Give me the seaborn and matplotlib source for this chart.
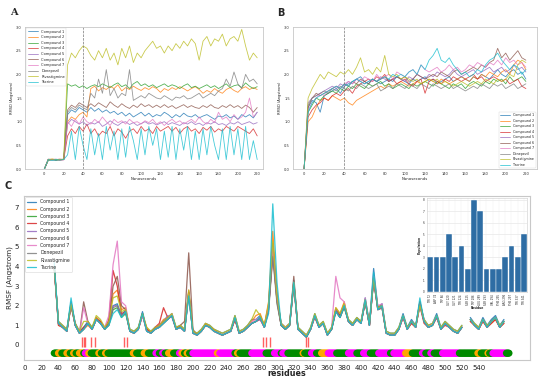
import numpy as np
import pandas as pd
import matplotlib
matplotlib.use("Agg")
import matplotlib.pyplot as plt
import seaborn as sns

# ---------------- data ----------------
names = ["Compound 1", "Compound 2", "Compound 3", "Compound 4", "Compound 5",
         "Compound 6", "Compound 7", "Donepezil", "Rivastigmine", "Tacrine"]

time_ns = list(range(0, 221, 4))

# Panel A RMSD
a_c1 = [0.0, 0.19, 0.2, 0.18, 0.2, 0.2, 1.15, 1.25,
        1.2, 1.3, 1.25, 1.2, 1.3, 1.22, 1.28, 1.2,
        1.25, 1.18, 1.22, 1.15, 1.2, 1.12, 1.18, 1.1,
        1.15, 1.2, 1.12, 1.18, 1.1, 1.15, 1.12, 1.2,
        1.15, 1.08, 1.15, 1.1, 1.18, 1.12, 1.1, 1.15,
        1.08, 1.12, 1.15, 1.1, 1.05, 1.12, 1.1, 1.15,
        1.08, 1.12, 1.05, 1.15, 1.1, 1.15, 1.08, 1.2]
a_c2 = [0.0, 0.2, 0.21, 0.2, 0.19, 0.2, 1.0, 1.1,
        1.05, 1.15, 1.2, 1.1, 1.7, 1.75, 1.65, 1.72,
        1.68, 1.75, 1.7, 1.78, 1.65, 1.72, 1.68, 1.75,
        1.7, 1.66, 1.72, 1.68, 1.74, 1.7, 1.62, 1.7,
        1.66, 1.72, 1.68, 1.74, 1.7, 1.65, 1.7, 1.74,
        1.68, 1.6, 1.66, 1.62, 1.7, 1.64, 1.6, 1.68,
        1.72, 1.66, 1.62, 1.7, 1.74, 1.68, 1.72, 1.68]
a_c3 = [0.0, 0.18, 0.2, 0.19, 0.2, 0.21, 1.8, 1.75,
        1.78, 1.72, 1.76, 1.7, 1.75, 1.78, 1.74, 1.8,
        1.76, 1.72, 1.78, 1.82, 1.74, 1.78, 1.7, 1.8,
        1.85, 1.76, 1.8, 1.74, 1.78, 1.72, 1.76, 1.8,
        1.74, 1.78, 1.75, 1.7, 1.76, 1.8, 1.72, 1.75,
        1.7, 1.74, 1.78, 1.72, 1.76, 1.7, 1.75, 1.8,
        1.72, 1.76, 1.78, 1.72, 1.82, 1.75, 1.7, 1.74]
a_c4 = [0.0, 0.2, 0.19, 0.2, 0.21, 0.2, 0.7, 0.85,
        0.75, 0.9, 0.8, 0.95, 0.75, 0.85, 0.7, 0.8,
        0.75, 0.9, 0.7, 0.85, 0.78, 0.65, 0.8, 0.85,
        0.75, 0.9, 0.8, 0.85, 0.75, 0.9, 0.8, 0.85,
        0.9, 0.8, 0.88, 0.75, 0.85, 0.9, 0.8, 0.85,
        0.75, 0.88, 0.82, 0.9, 0.78, 0.85, 0.8, 0.9,
        0.85, 0.8, 0.9, 0.85, 0.8, 0.75, 0.85, 0.7]
a_c5 = [0.0, 0.2, 0.2, 0.21, 0.19, 0.2, 0.95, 1.05,
        1.0, 0.95, 1.0, 0.92, 0.98, 0.95, 1.0, 0.9,
        0.95, 1.02, 0.96, 0.92, 0.98, 1.0, 0.94, 0.98,
        0.92, 0.96, 1.0, 0.95, 0.98, 0.93, 0.97, 1.0,
        0.94, 0.98, 0.95, 0.92, 0.98, 0.95, 1.0, 0.94,
        0.97, 0.92, 0.98, 0.95, 1.0, 0.94, 0.96, 0.92,
        0.98, 0.95, 1.0, 0.94, 0.97, 1.0, 0.95, 0.98]
a_c6 = [0.0, 0.21, 0.2, 0.2, 0.19, 0.2, 1.25, 1.35,
        1.3, 1.4, 1.35, 1.3, 1.38, 1.32, 1.4, 1.35,
        1.3, 1.42, 1.35, 1.3, 1.38, 1.32, 1.28, 1.35,
        1.3, 1.38, 1.32, 1.36, 1.3, 1.35, 1.3, 1.36,
        1.3, 1.34, 1.28, 1.32, 1.36, 1.3, 1.34, 1.3,
        1.28, 1.34, 1.3, 1.36, 1.3, 1.28, 1.34, 1.3,
        1.36, 1.3, 1.34, 1.28, 1.35, 1.3, 1.2, 1.3]
a_c7 = [0.0, 0.2, 0.2, 0.2, 0.2, 0.19, 1.0, 0.9,
        1.05, 0.95, 1.1, 1.0, 0.95, 1.05, 0.98, 1.1,
        1.0, 0.92, 1.05, 0.98, 1.02, 0.95, 1.05, 0.98,
        1.0, 0.95, 1.02, 0.98, 1.05, 0.95, 1.0, 0.92,
        1.0, 1.05, 0.98, 1.02, 0.95, 1.0, 1.05, 0.98,
        1.1, 1.0, 0.95, 1.05, 0.98, 1.2, 1.05, 1.1,
        1.0, 1.15, 1.05, 1.1, 1.2, 1.5, 1.1, 1.2]
a_don = [0.0, 0.2, 0.2, 0.2, 0.2, 0.2, 1.2, 1.3,
         1.25, 1.35, 1.3, 1.25, 1.6, 1.5, 1.9, 1.6,
         2.1, 1.55, 1.7, 1.5, 1.6, 1.55, 2.1, 1.45,
         1.5, 1.55, 1.5, 1.6, 1.55, 1.5, 1.48, 1.55,
         1.5, 1.45, 1.52, 1.5, 1.55, 1.48, 1.5, 1.55,
         1.6, 1.5, 1.55, 1.6, 1.55, 1.65, 1.7, 1.9,
         1.75, 2.05, 1.8, 1.7, 2.0, 1.85, 1.9, 1.8]
a_riv = [0.0, 0.2, 0.21, 0.2, 0.2, 0.2, 2.2, 2.45,
         2.35, 2.5, 2.6, 2.55, 2.4, 2.3, 2.5, 2.35,
         2.55, 2.3, 2.45, 2.2, 2.55, 2.35, 2.6, 2.25,
         2.45, 2.35, 2.5, 2.6, 2.7, 2.55, 2.6, 2.45,
         2.6, 2.5, 2.65, 2.55, 2.7, 2.6, 2.75, 2.65,
         2.3, 2.7, 2.8, 2.6, 2.75, 2.7, 2.85, 2.6,
         2.75, 2.8, 2.7, 2.95, 2.6, 2.3, 2.45, 2.35]
a_tac = [0.0, 0.2, 0.18, 0.2, 0.19, 0.2, 0.3, 0.8,
         0.2, 0.9, 0.5, 0.2, 0.85, 0.3, 0.75, 0.2,
         0.9, 0.4, 0.8, 0.2, 0.85, 0.25, 0.9, 0.6,
         0.2, 0.85, 0.3, 0.9, 0.5, 0.85, 0.2, 0.8,
         0.25, 0.9, 0.2, 0.85, 0.4, 0.9, 0.2, 0.8,
         0.2, 0.85, 0.3, 0.9, 0.5, 0.2, 0.85, 0.2,
         0.9, 0.3, 0.85, 0.2, 0.9, 0.2, 0.6, 0.2]

# Panel B RMSD
b_c1 = [0.0, 1.3, 1.45, 1.4, 1.2, 1.55, 1.6, 1.65,
        1.7, 1.6, 1.75, 1.8, 1.85, 1.9, 1.95, 1.85,
        1.8, 1.9, 1.85, 1.8, 1.85, 1.9, 1.85, 1.95,
        1.9, 1.85, 1.8, 1.9, 1.85, 1.9, 1.95, 1.85,
        1.9, 1.8, 1.85, 1.9, 1.95, 1.85, 1.9, 1.95,
        1.9, 1.85, 1.95, 1.9, 2.0, 1.95, 1.9, 2.0,
        2.1, 2.0, 1.95, 2.05, 2.1, 2.0, 2.05, 1.9]
b_c2 = [0.0, 1.0, 1.1, 1.3, 1.45, 1.5, 1.45, 1.55,
        1.5, 1.45, 1.5, 1.4, 1.35, 1.45, 1.5, 1.55,
        1.6, 1.65, 1.7, 1.75, 1.7, 1.8, 1.75, 1.8,
        1.85, 1.8, 1.75, 1.8, 1.85, 1.8, 1.85, 1.9,
        1.85, 1.8, 1.9, 1.85, 1.8, 1.85, 1.9, 1.95,
        1.9, 1.85, 1.95, 1.9, 2.0, 1.95, 2.05, 2.0,
        1.95, 2.05, 2.1, 2.0, 2.2, 2.3, 2.25, 2.1]
b_c3 = [0.0, 1.2, 1.35, 1.5, 1.45, 1.55, 1.6, 1.65,
        1.6, 1.7, 1.65, 1.75, 1.7, 1.8, 1.75, 1.7,
        1.8, 1.75, 1.8, 1.85, 1.75, 1.8, 1.7, 1.75,
        1.8, 1.75, 1.7, 1.8, 1.75, 1.8, 1.85, 1.8,
        1.75, 1.85, 1.8, 1.75, 1.7, 1.8, 1.75, 1.8,
        1.7, 1.8, 1.85, 1.8, 1.75, 1.85, 1.8, 1.9,
        1.85, 1.9, 1.8, 1.95, 1.85, 1.9, 1.95, 1.85]
b_c4 = [0.0, 1.1, 1.25, 1.35, 1.4, 1.5, 1.45, 1.55,
        1.6, 1.55, 1.65, 1.7, 1.6, 1.75, 1.8, 1.85,
        1.9, 1.85, 1.95, 1.9, 2.0, 1.85, 1.9, 1.8,
        1.85, 1.9, 1.8, 1.75, 1.85, 1.9, 1.6, 1.85,
        1.9, 1.85, 1.8, 1.9, 1.85, 1.95, 1.9, 1.85,
        1.9, 1.95, 2.0, 1.9, 1.95, 1.85, 1.9, 1.95,
        1.9, 1.85, 1.9, 1.8, 1.85, 1.9, 1.75, 1.7]
b_c5 = [0.0, 1.4, 1.5, 1.55, 1.6, 1.65, 1.7, 1.75,
        1.7, 1.8, 1.75, 1.85, 1.8, 1.9, 1.85, 1.8,
        1.85, 1.9, 1.85, 1.95, 1.9, 1.85, 1.9, 1.95,
        1.9, 1.85, 1.95, 1.9, 2.0, 1.95, 1.9, 2.0,
        1.95, 2.05, 2.0, 1.95, 2.0, 2.1, 2.0, 1.95,
        2.0, 2.05, 2.1, 2.0, 2.05, 2.1, 2.15, 2.05,
        2.1, 2.15, 2.05, 2.1, 2.2, 2.1, 2.15, 2.05]
b_c6 = [0.0, 1.3, 1.5, 1.6, 1.55, 1.6, 1.65, 1.7,
        1.75, 1.7, 1.8, 1.75, 1.85, 1.8, 1.9, 1.85,
        1.8, 1.9, 1.85, 1.9, 1.95, 1.85, 1.9, 1.95,
        1.9, 1.95, 1.85, 1.9, 2.0, 1.95, 1.9, 1.95,
        2.0, 1.95, 2.05, 2.0, 1.95, 2.05, 2.1, 2.0,
        2.05, 2.1, 2.15, 2.1, 2.2, 2.15, 2.25, 2.3,
        2.55, 2.35, 2.45, 2.3, 2.4, 2.5, 2.35, 2.3]
b_c7 = [0.0, 1.25, 1.4, 1.5, 1.6, 1.55, 1.65, 1.7,
        1.75, 1.7, 1.8, 1.85, 1.8, 1.9, 1.85, 1.95,
        1.9, 1.85, 2.0, 1.9, 1.95, 2.0, 1.9, 2.05,
        2.0, 1.95, 2.05, 2.1, 2.0, 2.2, 2.1, 2.05,
        2.1, 2.15, 2.05, 2.1, 2.2, 2.1, 2.15, 2.05,
        2.1, 2.2, 2.15, 2.25, 2.2, 2.15, 2.25, 2.2,
        2.3, 2.2, 2.35, 2.25, 2.3, 2.2, 2.25, 2.15]
b_don = [0.0, 1.35, 1.5, 1.55, 1.6, 1.65, 1.6, 1.7,
         1.65, 1.75, 1.7, 1.65, 1.75, 1.7, 1.8, 1.75,
         1.7, 1.75, 1.8, 1.65, 1.7, 1.75, 1.7, 1.8,
         1.75, 1.7, 1.8, 1.75, 1.7, 1.8, 1.75, 1.7,
         1.8, 1.75, 1.7, 1.75, 1.8, 1.7, 1.75, 1.7,
         1.65, 1.7, 1.75, 1.7, 1.8, 1.75, 1.7, 1.8,
         1.75, 1.8, 1.7, 1.75, 1.8, 1.7, 1.75, 1.8]
b_riv = [0.0, 1.5, 1.7, 1.85, 2.0, 1.9, 2.05, 2.0,
         1.95, 2.05, 2.0, 2.1, 2.0, 2.15, 2.35, 2.05,
         2.1, 2.0, 2.15, 2.05, 2.4, 2.0, 1.95, 2.0,
         1.9, 1.95, 1.9, 1.85, 1.9, 1.8, 1.85, 1.9,
         1.85, 1.9, 1.8, 1.85, 1.8, 1.75, 1.8, 1.85,
         1.8, 1.75, 1.8, 1.85, 1.8, 1.9, 1.85, 1.8,
         1.9, 1.85, 1.9, 2.0, 1.95, 2.2, 2.3, 2.25]
b_tac = [0.0, 1.2, 1.4, 1.5, 1.55, 1.6, 1.65, 1.7,
         1.75, 1.7, 1.8, 1.75, 1.85, 1.9, 1.85, 1.8,
         1.85, 1.9, 1.85, 1.9, 1.95, 1.9, 2.0, 1.95,
         2.0, 1.95, 2.05, 2.1, 2.0, 2.2, 2.1, 2.3,
         2.4, 2.55, 2.3, 2.25, 2.35, 2.2, 2.1, 2.0,
         2.05, 1.95, 2.0, 2.1, 2.05, 2.2, 2.3, 2.35,
         2.45, 2.3, 2.2, 2.1, 2.2, 2.15, 2.0, 2.1]

# Panel C RMSF
residues = list(range(35, 571, 5))
nan = float("nan")
c_c1 = [4.0, 1.2, 1.0, 0.8, 2.2, 1.1, 0.7, 0.9, 1.2, 0.9, 1.4, 1.2,
        0.9, 1.1, 2.0, 2.1, 1.5, 1.8, 0.8, 0.7, 0.9, 1.7, 0.8, 0.7,
        0.9, 1.0, 1.2, 1.4, 1.6, 0.9, 1.0, 0.8, 2.7, 0.7, 0.6, 0.8,
        1.1, 1.0, 0.8, 0.7, 0.6, 0.7, 0.8, 1.5, 0.7, 0.8, 1.0, 1.3,
        1.3, 1.5, 1.0, 2.0, 5.2, 2.4, 1.1, 0.9, 1.1, 3.3, 0.9, 0.7,
        0.5, 0.9, 1.6, 1.0, 1.2, 0.6, 0.9, 1.8, 1.5, 2.1, 1.3, 1.1,
        1.4, 1.2, 2.4, 1.1, 3.9, 1.9, 2.1, 0.7, 0.6, 0.6, 0.9, 1.6,
        0.9, 1.3, 1.0, 2.2, 1.3, 1.0, 1.1, 1.6, 0.9, 1.2, 1.0, 0.8,
        0.7, 1.0, nan, 1.4, 1.1, 0.9, 1.4, 1.0, 1.3, 1.5, 1.0, 1.3]
c_c2 = [3.9, 1.0, 0.9, 0.7, 2.0, 1.0, 0.6, 0.8, 1.0, 0.8, 1.4, 1.2,
        0.8, 1.2, 2.6, 2.8, 1.8, 1.9, 0.7, 0.6, 0.8, 1.5, 0.9, 0.6,
        0.8, 1.0, 1.3, 1.4, 1.5, 0.8, 1.0, 0.7, 2.8, 0.6, 0.5, 0.7,
        1.1, 0.9, 0.8, 0.6, 0.5, 0.6, 0.7, 1.3, 0.6, 0.7, 0.9, 1.2,
        1.5, 1.6, 1.0, 2.2, 5.8, 2.6, 1.0, 0.8, 1.0, 3.2, 0.8, 0.6,
        0.5, 0.8, 1.5, 0.9, 1.1, 0.6, 0.8, 1.9, 1.6, 2.2, 1.2, 1.0,
        1.3, 1.2, 2.2, 1.0, 3.5, 1.9, 2.0, 0.6, 0.5, 0.5, 0.8, 1.4,
        0.8, 1.1, 0.9, 2.2, 1.2, 0.9, 1.0, 1.4, 0.8, 1.1, 0.9, 0.7,
        0.6, 0.9, nan, 1.2, 1.0, 0.8, 1.2, 0.9, 1.1, 1.3, 0.9, 1.1]
c_c3 = [4.0, 1.1, 0.9, 0.7, 2.1, 1.0, 0.6, 0.8, 1.1, 0.8, 1.3, 1.1,
        0.8, 1.0, 1.8, 1.9, 1.4, 1.6, 0.7, 0.6, 0.8, 1.6, 0.7, 0.6,
        0.8, 0.9, 1.1, 1.3, 1.5, 0.8, 0.9, 0.7, 2.6, 0.6, 0.5, 0.7,
        1.0, 0.9, 0.7, 0.6, 0.5, 0.6, 0.7, 1.4, 0.6, 0.7, 0.9, 1.1,
        1.2, 1.4, 0.9, 1.8, 5.0, 2.2, 1.0, 0.8, 1.0, 3.1, 0.8, 0.6,
        0.4, 0.8, 1.5, 0.9, 1.1, 0.5, 0.8, 1.8, 1.4, 1.9, 1.2, 1.0,
        1.3, 1.1, 2.2, 1.0, 3.4, 1.8, 1.9, 0.6, 0.5, 0.5, 0.8, 1.5,
        0.8, 1.2, 0.9, 2.1, 1.2, 0.9, 1.0, 1.5, 0.8, 1.1, 0.9, 0.7,
        0.6, 0.9, nan, 1.3, 1.0, 0.8, 1.3, 0.9, 1.2, 1.4, 0.9, 1.2]
c_c4 = [4.0, 1.0, 0.9, 0.7, 2.0, 1.1, 0.6, 0.9, 1.1, 0.8, 1.3, 1.2,
        0.8, 1.3, 3.8, 3.0, 1.6, 1.7, 0.7, 0.6, 0.8, 1.5, 0.8, 0.6,
        0.9, 1.1, 1.9, 1.4, 1.5, 0.8, 0.9, 0.7, 2.7, 0.6, 0.5, 0.7,
        1.0, 0.9, 0.7, 0.6, 0.5, 0.6, 0.7, 1.3, 0.6, 0.7, 0.9, 1.1,
        1.2, 1.3, 0.9, 1.9, 4.6, 2.3, 1.0, 0.8, 1.0, 3.0, 0.8, 0.6,
        0.4, 0.8, 1.4, 0.9, 1.1, 0.5, 0.8, 1.8, 1.5, 2.0, 1.2, 1.0,
        1.3, 1.1, 2.2, 1.0, 3.3, 1.8, 1.9, 0.6, 0.5, 0.5, 0.8, 1.4,
        0.8, 1.1, 0.9, 2.0, 1.1, 0.9, 1.0, 1.4, 0.8, 1.0, 0.9, 0.7,
        0.6, 0.9, nan, 1.2, 1.0, 0.8, 1.2, 0.9, 1.1, 1.3, 0.9, 1.1]
c_c5 = [3.9, 1.1, 0.9, 0.7, 2.1, 1.0, 0.6, 0.8, 1.1, 0.8, 1.3, 1.1,
        0.8, 1.1, 2.0, 2.0, 1.5, 1.7, 0.7, 0.6, 0.8, 1.6, 0.7, 0.6,
        0.8, 1.0, 1.2, 1.5, 1.4, 0.8, 0.9, 0.7, 2.6, 0.6, 0.5, 0.7,
        1.0, 0.9, 0.7, 0.6, 0.5, 0.6, 0.7, 1.4, 0.6, 0.7, 0.9, 1.1,
        1.2, 1.3, 0.9, 1.8, 4.8, 2.3, 1.0, 0.8, 1.0, 3.1, 0.8, 0.6,
        0.4, 0.8, 1.5, 0.9, 1.1, 0.5, 0.8, 1.8, 1.4, 2.0, 1.2, 1.0,
        1.3, 1.1, 2.2, 1.0, 3.3, 1.8, 1.9, 0.6, 0.5, 0.5, 0.8, 1.4,
        0.8, 1.2, 0.9, 2.0, 1.2, 0.9, 1.0, 1.4, 0.8, 1.1, 0.9, 0.7,
        0.6, 0.9, nan, 1.3, 1.0, 0.8, 1.3, 0.9, 1.2, 1.4, 0.9, 1.2]
c_c6 = [4.0, 1.1, 0.9, 0.7, 2.1, 1.0, 0.6, 2.2, 1.2, 0.8, 1.3, 1.1,
        0.8, 1.2, 3.0, 3.5, 2.0, 1.8, 0.7, 0.6, 0.8, 1.6, 0.7, 0.6,
        0.8, 0.9, 1.2, 1.3, 1.5, 0.8, 1.0, 1.2, 4.7, 0.8, 0.5, 0.7,
        1.0, 0.9, 0.7, 0.6, 0.5, 0.6, 0.7, 1.3, 0.6, 0.7, 0.9, 1.1,
        1.2, 1.4, 0.9, 1.9, 4.8, 2.5, 1.0, 0.8, 1.0, 3.5, 0.8, 0.6,
        0.4, 0.8, 1.5, 0.9, 1.1, 0.5, 0.8, 1.7, 1.4, 2.0, 1.2, 1.0,
        1.3, 1.1, 2.3, 1.0, 3.4, 1.9, 2.0, 0.6, 0.5, 0.5, 0.8, 1.5,
        0.8, 1.2, 0.9, 2.2, 1.2, 0.9, 1.0, 1.5, 0.8, 1.1, 0.9, 0.7,
        0.6, 0.9, nan, 1.3, 1.0, 0.8, 1.3, 0.9, 1.2, 1.4, 0.9, 1.2]
c_c7 = [4.0, 1.1, 0.9, 0.7, 2.1, 1.0, 0.6, 1.9, 1.1, 0.8, 1.3, 1.1,
        0.9, 1.5, 4.1, 5.3, 2.2, 2.0, 0.7, 0.6, 0.8, 1.5, 0.7, 0.6,
        0.8, 0.9, 1.1, 1.3, 1.6, 0.8, 0.9, 0.7, 2.6, 0.6, 0.5, 0.7,
        1.0, 0.9, 0.7, 0.6, 0.5, 0.6, 0.7, 1.4, 0.6, 0.7, 0.9, 1.2,
        1.3, 1.4, 0.9, 2.0, 5.0, 2.4, 1.1, 0.9, 1.1, 3.2, 0.8, 0.6,
        0.5, 0.8, 1.5, 0.9, 1.1, 0.5, 0.9, 3.5, 2.4, 2.2, 1.2, 1.0,
        1.3, 1.1, 2.4, 1.0, 3.5, 2.0, 2.1, 0.6, 0.5, 0.5, 0.8, 1.5,
        0.8, 1.2, 0.9, 2.1, 1.3, 0.9, 1.1, 1.5, 0.8, 1.1, 0.9, 0.7,
        0.6, 0.9, nan, 1.3, 1.0, 0.8, 1.3, 0.9, 1.2, 1.4, 0.9, 1.2]
c_don = [4.0, 1.1, 0.9, 0.7, 2.0, 1.0, 0.6, 0.8, 1.1, 0.8, 1.3, 1.1,
         0.8, 1.0, 1.9, 2.0, 1.5, 1.7, 0.7, 0.6, 0.8, 1.6, 0.7, 0.6,
         0.8, 0.9, 1.1, 1.3, 1.5, 0.8, 0.9, 0.7, 2.5, 0.6, 0.5, 0.7,
         1.0, 0.9, 0.7, 0.6, 0.5, 0.6, 0.7, 1.4, 0.6, 0.7, 0.9, 1.1,
         1.2, 1.4, 0.9, 1.7, 4.5, 2.1, 1.0, 0.8, 1.0, 3.1, 0.8, 0.6,
         0.4, 0.8, 1.5, 0.9, 1.1, 0.5, 0.8, 1.7, 1.4, 2.0, 1.2, 1.0,
         1.3, 1.1, 2.2, 1.0, 3.3, 1.8, 1.9, 0.6, 0.5, 0.5, 0.8, 1.5,
         0.8, 1.2, 0.9, 2.1, 1.2, 0.9, 1.0, 1.5, 0.8, 1.1, 0.9, 0.7,
         0.6, 0.9, nan, 1.3, 1.0, 0.8, 1.3, 0.9, 1.2, 1.4, 0.9, 1.2]
c_riv = [4.0, 1.2, 1.0, 0.8, 2.1, 1.1, 0.7, 1.2, 1.2, 0.9, 1.5, 1.3,
         0.9, 1.2, 2.4, 2.5, 1.7, 1.8, 0.8, 0.7, 0.9, 1.6, 0.9, 0.7,
         0.9, 1.0, 1.2, 1.4, 1.6, 0.9, 1.0, 0.8, 2.8, 0.7, 0.6, 0.8,
         1.1, 1.0, 0.8, 0.7, 0.6, 0.7, 0.8, 1.5, 0.7, 0.8, 1.0, 1.3,
         1.8, 1.5, 1.0, 2.1, 5.3, 2.5, 1.1, 0.9, 1.1, 3.2, 0.9, 0.7,
         0.5, 0.9, 1.6, 1.0, 1.2, 0.6, 0.9, 1.9, 1.6, 2.1, 1.3, 1.1,
         1.4, 1.2, 2.3, 1.1, 3.4, 1.9, 2.0, 0.7, 0.6, 0.6, 0.9, 1.5,
         0.9, 1.2, 1.0, 2.0, 1.3, 1.0, 1.1, 1.5, 0.9, 1.2, 1.0, 0.8,
         0.7, 1.0, nan, 1.3, 1.1, 0.9, 1.3, 1.0, 1.2, 1.4, 1.0, 1.2]
c_tac = [4.2, 1.1, 0.9, 0.7, 2.4, 1.0, 0.6, 0.8, 1.1, 0.8, 1.3, 1.1,
         0.8, 1.0, 1.6, 1.8, 1.4, 1.7, 0.7, 0.6, 0.8, 1.6, 0.7, 0.6,
         0.8, 0.9, 1.1, 1.3, 1.5, 0.8, 0.9, 0.7, 2.5, 0.6, 0.5, 0.7,
         1.0, 0.9, 0.7, 0.6, 0.5, 0.6, 0.7, 1.4, 0.6, 0.7, 0.9, 1.1,
         1.2, 1.4, 0.9, 1.6, 7.2, 3.2, 1.0, 0.8, 1.0, 3.2, 0.8, 0.6,
         0.4, 0.8, 1.5, 0.9, 1.1, 0.5, 0.8, 1.7, 1.4, 2.0, 1.2, 1.0,
         1.3, 1.1, 2.3, 1.0, 3.7, 1.8, 2.0, 0.6, 0.5, 0.5, 0.8, 1.5,
         0.8, 1.2, 0.9, 2.4, 1.2, 0.9, 1.0, 1.5, 0.8, 1.1, 0.9, 0.7,
         0.6, 0.9, nan, 1.3, 1.0, 0.8, 1.3, 0.9, 1.2, 1.4, 0.9, 1.2]

# secondary structure segments (start, end, type)
ss_start = [35, 40, 44, 50, 54, 58, 61, 65, 70, 72, 76, 79, 88, 91, 96, 99, 129, 133,
            142, 147, 156, 160, 164, 167, 171, 177, 184, 187, 190, 193, 196, 200, 229,
            232, 250, 253, 256, 270, 287, 297, 305, 307, 313, 331, 333, 341, 347, 353,
            361, 371, 385, 395, 403, 411, 421, 435, 439, 453, 461, 473, 477, 483, 487,
            497, 517, 539, 543, 551, 553, 557, 573]
ss_end = [40, 44, 50, 54, 58, 61, 65, 70, 72, 76, 79, 88, 91, 96, 99, 129, 133, 142,
          147, 156, 160, 164, 167, 171, 177, 184, 187, 190, 193, 196, 200, 229, 232,
          250, 253, 256, 270, 287, 297, 305, 307, 313, 331, 333, 341, 347, 353, 361,
          371, 385, 395, 403, 411, 421, 435, 439, 453, 461, 473, 477, 483, 487, 497,
          517, 539, 543, 551, 553, 557, 573, 577]
ss_type = ["G", "O", "G", "O", "G", "O", "G", "O", "G", "M", "O", "G", "O", "G", "O", "G", "O", "G",
           "O", "G", "M", "G", "M", "G", "O", "G", "M", "O", "G", "O", "G", "M", "O",
           "M", "G", "O", "G", "M", "G", "M", "G", "M", "G", "O", "G", "M", "G", "O",
           "M", "G", "M", "G", "M", "G", "M", "G", "M", "O", "G", "M", "G", "M", "G",
           "M", "G", "O", "G", "O", "G", "M", "G"]

# contact residues (red marks)
contact_res = [68, 70, 72, 79, 83, 118, 121, 283, 287, 292, 334, 337]

# inset bar chart
inset_labels = ["TYR 72", "ASP 74", "TRP 86", "GLY 120", "GLY 121", "TYR 124", "SER 125",
                "TRP 286", "LEU 289", "SER 293", "VAL 294", "PHE 295", "ARG 296",
                "PHE 297", "TYR 337", "TYR 341"]
inset_counts = [3, 3, 3, 5, 3, 4, 2, 8, 7, 2, 2, 2, 3, 4, 3, 5]

# ---------------- build frames ----------------
a_series = [a_c1, a_c2, a_c3, a_c4, a_c5, a_c6, a_c7, a_don, a_riv, a_tac]
b_series = [b_c1, b_c2, b_c3, b_c4, b_c5, b_c6, b_c7, b_don, b_riv, b_tac]
c_series = [c_c1, c_c2, c_c3, c_c4, c_c5, c_c6, c_c7, c_don, c_riv, c_tac]


def long_frame(xs, series, xname, yname):
    rows = []
    for nm, ys in zip(names, series):
        seg = 0
        for x, y in zip(xs, ys):
            if np.isnan(y):
                seg += 1
                continue
            rows.append((x, y, nm, f"{nm}_{seg}"))
    return pd.DataFrame(rows, columns=[xname, yname, "ligand", "seg"])


df_a = long_frame(time_ns, a_series, "time", "rmsd")
df_b = long_frame(time_ns, b_series, "time", "rmsd")
df_c = long_frame(residues, c_series, "res", "rmsf")

sns.set_style("white")
plt.rcParams["font.family"] = ["DejaVu Sans"]
palette = dict(zip(names, sns.color_palette("tab10", 10)))
spine_col = "#c8c8c8"

fig = plt.figure(figsize=(5.5, 3.79), dpi=100)


def style_small(ax):
    for sp in ax.spines.values():
        sp.set_color(spine_col)
        sp.set_linewidth(0.6)
    ax.tick_params(labelsize=2.6, length=1.2, width=0.3, pad=1, colors="#333333")


# Panel A
axA = fig.add_axes([0.0455, 0.554, 0.4327, 0.3747])
sns.lineplot(data=df_a, x="time", y="rmsd", hue="ligand", hue_order=names,
             palette=palette, lw=0.6, alpha=0.8, ax=axA, estimator=None, units="seg")
axA.axvline(40, color="#777777", ls="--", lw=0.5)
axA.set_xlim(-20, 226)
axA.set_ylim(0, 3.0)
axA.set_xticks(range(0, 221, 20))
axA.set_yticks(np.arange(0, 3.01, 0.5))
axA.set_yticklabels([f"{v:.1f}" for v in np.arange(0, 3.01, 0.5)])
axA.set_xlabel("Nanoseconds", fontsize=2.8, labelpad=0.5)
axA.set_ylabel("RMSD (Angstrom)", fontsize=2.6, labelpad=1.5)
style_small(axA)
sns.move_legend(axA, "upper left", title=None, fontsize=2.6, frameon=True,
                borderaxespad=0.3, handlelength=3.0, labelspacing=0.45, borderpad=0.4)
axA.get_legend().get_frame().set_linewidth(0.3)
for ln in axA.get_legend().get_lines():
    ln.set_linewidth(0.6)

# Panel B
axB = fig.add_axes([0.5327, 0.554, 0.4436, 0.3747])
sns.lineplot(data=df_b, x="time", y="rmsd", hue="ligand", hue_order=names,
             palette=palette, lw=0.6, alpha=0.8, ax=axB, estimator=None, units="seg")
axB.axvline(40, color="#777777", ls="--", lw=0.5)
axB.set_xlim(-11, 231)
axB.set_ylim(0, 3.0)
axB.set_xticks(range(0, 221, 20))
axB.set_yticks(np.arange(0, 3.01, 0.5))
axB.set_yticklabels([f"{v:.1f}" for v in np.arange(0, 3.01, 0.5)])
axB.set_xlabel("Nanoseconds", fontsize=2.8, labelpad=0.5)
axB.set_ylabel("RMSD (Angstrom)", fontsize=2.6, labelpad=1.5)
style_small(axB)
sns.move_legend(axB, "lower right", title=None, fontsize=2.4, frameon=True,
                borderaxespad=0.3, handlelength=3.0, labelspacing=0.45, borderpad=0.4)
axB.get_legend().get_frame().set_linewidth(0.3)
for ln in axB.get_legend().get_lines():
    ln.set_linewidth(0.6)

# Panel C
axC = fig.add_axes([0.0436, 0.0501, 0.92, 0.4327])
sns.lineplot(data=df_c, x="res", y="rmsf", hue="ligand", hue_order=names,
             palette=palette, lw=0.9, alpha=0.85, ax=axC, estimator=None, units="seg")
ss_colors = {"G": "#008a00", "O": "#ffa500", "M": "#ff00ff"}
ss_x, ss_c = [], []
for s, e, t in zip(ss_start, ss_end, ss_type):
    for r in range(s, e):
        ss_x.append(r)
        ss_c.append(ss_colors[t])
axC.scatter(ss_x, [-0.42] * len(ss_x), c=ss_c, s=26, marker="o", linewidths=0, zorder=3)
axC.vlines(contact_res, -0.12, 0.42, color="#ff4444", lw=1.0, alpha=0.85)
axC.set_xlim(-1, 601)
axC.set_ylim(-0.77, 7.6)
axC.set_xticks(range(0, 541, 20))
axC.set_yticks(range(0, 8))
axC.set_xlabel("residues", fontsize=5.8, fontweight="bold")
axC.xaxis.set_label_coords(0.52, -0.085)
axC.xaxis.label.set_va("center")
axC.set_ylabel("RMSF (Angstrom)", fontsize=5.2, labelpad=1.5)
for sp in axC.spines.values():
    sp.set_color(spine_col)
    sp.set_linewidth(0.8)
axC.tick_params(labelsize=5, length=2, width=0.5, pad=1.5, colors="#222222")
sns.move_legend(axC, "upper left", title=None, fontsize=3.3, frameon=True,
                borderaxespad=0.3, handlelength=2.0, labelspacing=0.5, borderpad=0.4)
axC.get_legend().get_frame().set_linewidth(0.4)

# Inset
axI = fig.add_axes([0.7764, 0.2296, 0.1818, 0.248])
df_i = pd.DataFrame({"Residue": inset_labels, "Population": inset_counts})
sns.barplot(data=df_i, x="Residue", y="Population", color="#2e6da4", ax=axI,
            edgecolor="white", linewidth=0.3, width=0.92, saturation=1)
axI.set_ylim(0, 8.15)
axI.set_yticks(range(0, 9))
axI.yaxis.grid(True, color="#e2e2e2", lw=0.4)
axI.xaxis.grid(True, color="#eeeeee", lw=0.3)
axI.set_axisbelow(True)
axI.tick_params(axis="x", labelsize=1.9, rotation=90, length=0.8, width=0.3, pad=0.8)
axI.tick_params(axis="y", labelsize=2.0, length=0.8, width=0.3, pad=0.8)
axI.set_xlabel("Residue", fontsize=2.2, fontweight="bold", labelpad=0.5)
axI.set_ylabel("Population", fontsize=2.2, fontweight="bold", labelpad=1)
for sp in axI.spines.values():
    sp.set_color("#cccccc")
    sp.set_linewidth(0.4)

# Panel letters
fig.text(0.018, 0.968, "A", fontsize=7, fontweight="bold", family="serif", va="center")
fig.text(0.503, 0.965, "B", fontsize=7, fontweight="bold", va="center")
fig.text(0.008, 0.508, "C", fontsize=7, fontweight="bold", va="center")

fig.savefig("out.png", dpi=100)
